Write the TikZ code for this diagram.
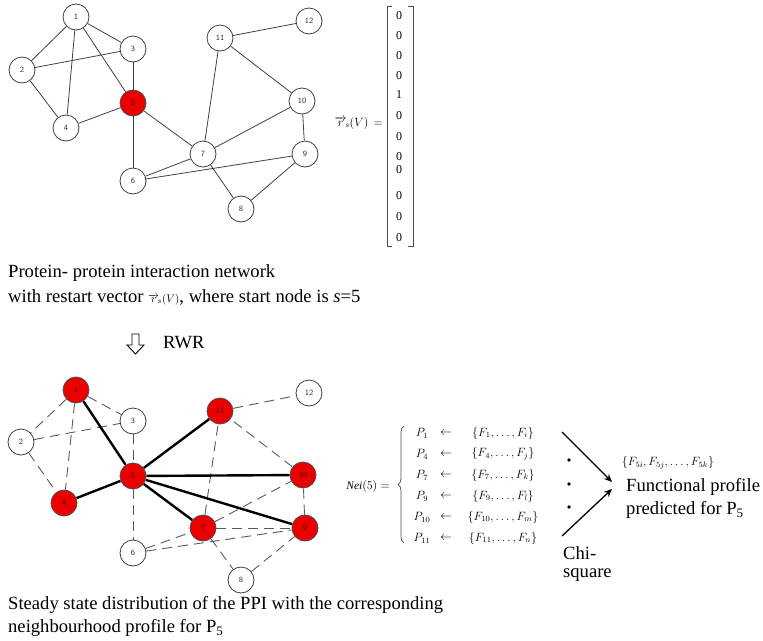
\documentclass[tikz,border=0pt]{standalone}
\usepackage{fontspec}
\setmainfont{Liberation Serif}
\usetikzlibrary{backgrounds,decorations.pathreplacing,arrows.meta}
\begin{document}
\begin{tikzpicture}[x=1pt,y=-1pt,
  nd/.style={circle,draw=black!75,line width=0.8pt,minimum size=26pt,inner sep=0pt,
    font=\sffamily\fontsize{8}{8}\selectfont,fill=white,text=black!80},
  rd/.style={nd,fill=red!92!black,draw=black!70,text=black!70!red},
  ed/.style={draw=black!75,line width=0.8pt},
  de/.style={draw=black!65,line width=0.9pt,dash pattern=on 10pt off 6pt},
  te/.style={draw=black,line width=2.4pt},
  captxt/.style={anchor=west,inner sep=0pt,font=\fontsize{18.6}{21}\selectfont},
  vec/.style={inner sep=0pt,font=\fontsize{12}{12}\selectfont},
  row/.style={inner sep=0pt,font=\fontsize{11.5}{11.5}\selectfont}]
\useasboundingbox (0,0) rectangle (763,640);

% ---------- top network ----------
\node[nd] (a1) at (76,17) {1};
\node[nd] (a2) at (22,70) {2};
\node[nd] (a3) at (133,49) {3};
\node[nd] (a4) at (66,128) {4};
\node[rd] (a5) at (133,103) {5};
\node[nd] (a6) at (133,181) {6};
\node[nd] (a7) at (203,154) {7};
\node[nd] (a8) at (241,209) {8};
\node[nd] (a9) at (305,154) {9};
\node[nd] (a10) at (302,101) {10};
\node[nd] (a11) at (220,38) {11};
\node[nd] (a12) at (309,21) {12};
\begin{scope}[on background layer]
\foreach \u/\v in {a1/a2,a1/a3,a1/a4,a1/a5,a2/a3,a2/a4,a3/a5,a4/a5,a5/a6,a5/a7,a6/a7,a6/a9,a7/a10,a7/a11,a7/a8,a8/a9,a9/a10,a10/a11,a11/a12}
  \draw[ed] (\u) -- (\v);
\draw[draw=black!75,line width=0.6pt,double,double distance=1.6pt] (a7) -- (a9);
\end{scope}

% ---------- restart vector ----------
\node[vec,anchor=east] (rlab) at (383,123) {${\overrightarrow{r}}_{\!s}(V)\,=$};
\draw[line width=0.7pt,black!70] (392,6) -- (387,6) -- (387,246) -- (392,246);
\draw[line width=0.7pt,black!70] (408,6) -- (413,6) -- (413,246) -- (408,246);
\foreach \yy/\val in {16/0,36/0,56/0,76/0,95/1,116/0,137/0,157/0,170/0,196/0,217/0,238/0}
  \node[vec] at (399,\yy) {\val};

% ---------- captions ----------
\node[captxt] (c1) at (8,273) {Protein- protein interaction network};
\node[captxt] (c2) at (8,297) {with restart vector {\fontsize{11}{11}\selectfont${\overrightarrow{r}}_{\!s}(V)$}, where start node is \textit{s}=5};

% ---------- RWR arrow ----------
\draw[line width=0.9pt] (132,334) -- (139,334) -- (139,345) -- (144,345) -- (135.5,354) -- (127,345) -- (132,345) -- cycle;
\node[captxt] (rwr) at (163,343) {RWR};

% ---------- bottom network ----------
\node[rd] (b1) at (76,390) {1};
\node[nd] (b2) at (21,442) {2};
\node[nd] (b3) at (133,421) {3};
\node[rd] (b4) at (64,503) {4};
\node[rd] (b5) at (133,476) {5};
\node[nd] (b6) at (133,553) {6};
\node[rd] (b7) at (203,528) {7};
\node[nd] (b8) at (241,580) {8};
\node[rd] (b9) at (305,528) {9};
\node[rd] (b10) at (303,475) {10};
\node[rd] (b11) at (220,411) {11};
\node[nd] (b12) at (309,393) {12};
\begin{scope}[on background layer]
\foreach \u/\v in {b1/b2,b1/b3,b1/b4,b2/b3,b2/b4,b3/b5,b5/b6,b6/b7,b6/b9,b7/b9,b7/b10,b7/b11,b7/b8,b8/b9,b9/b10,b10/b11,b11/b12}
  \draw[de] (\u) -- (\v);
\foreach \v in {b1,b4,b11,b10,b7,b9}
  \draw[te] (b5) -- (\v);
\end{scope}

% ---------- neighbourhood profile ----------
\node[row,anchor=east] (nei) at (390,486) {$\mathit{Nei}(5) =$};
\draw[decorate,decoration={brace,amplitude=6pt},line width=0.7pt,black!70] (404,543) -- (404,426);
\foreach \i/\p/\f/\l in {0/1/1/i,1/4/4/j,2/7/7/k,3/9/9/l,4/10/10/m,5/11/11/n}{
  \node[row] at (422,433+21*\i) {$P_{\p}$};
  \node[row] at (446,433+21*\i) {$\leftarrow$};
  \node[row] at (503,433+21*\i) {$\{F_{\f},\ldots, F_{\l}\}$};
}
\foreach \yy in {460,484,507} \fill (569,\yy) circle (1.8pt);
\coordinate (s1) at (562,432);
\coordinate (s2) at (562,536);
\coordinate (tip1) at (612,482);
\coordinate (tip2) at (612,489);
\draw[line width=1.3pt,-{Stealth[length=8pt,width=7pt]}] (s1) -- (tip1);
\draw[line width=1.3pt,-{Stealth[length=8pt,width=7pt]}] (s2) -- (tip2);
\node[captxt] (chi) at (563,553) {Chi-};
\node[captxt] (sq) at (563,575) {square};
\node[row] (fset) at (668,463) {$\{F_{5i}, F_{5j},\ldots, F_{5k}\}$};
\node[captxt] (fp) at (626,487) {Functional profile};
\node[captxt] (pr) at (626,510) {predicted for P\textsubscript{5}};

% ---------- bottom caption ----------
\node[captxt] (c3) at (8,605) {Steady state distribution of the PPI with the corresponding};
\node[captxt] (c4) at (8,628) {neighbourhood profile for P\textsubscript{5}};
\end{tikzpicture}
\end{document}
